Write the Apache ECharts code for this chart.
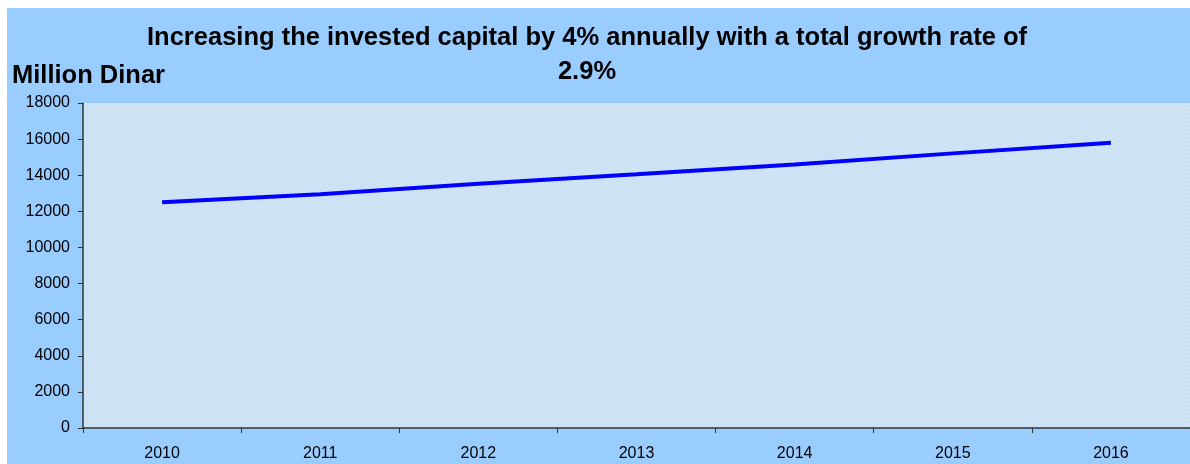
<!DOCTYPE html>
<html>
<head>
<meta charset="utf-8">
<script src="https://cdn.jsdelivr.net/npm/echarts@6/dist/echarts.min.js"></script>
<style>
html,body{margin:0;padding:0;background:#fff;}
#chart{width:1190px;height:464px;}
</style>
</head>
<body>
<div id="chart"></div>
<script>
const years = ['2010','2011','2012','2013','2014','2015','2016'];
const capital = [12500, 12950, 13530, 14050, 14600, 15210, 15800];
const titleText = 'Increasing the invested capital by 4% annually with a total growth rate of\n2.9%';
const unitText = 'Million Dinar';

// dotted texture for plot area
const tile = document.createElement('canvas');
tile.width = 4; tile.height = 4;
const tc = tile.getContext('2d');
tc.fillStyle = '#cfe3f3'; tc.fillRect(0,0,4,4);
tc.fillStyle = '#daeaf7'; tc.fillRect(0,0,1,1); tc.fillRect(2,2,1,1);
tc.fillStyle = '#bcd6ee'; tc.fillRect(2,0,1,1); tc.fillRect(0,2,1,1);

const chart = echarts.init(document.getElementById('chart'));
chart.setOption({
  backgroundColor: '#ffffff',
  animation: false,
  graphic: [{
    type: 'rect', z: -10, silent: true,
    shape: {x: 7, y: 8, width: 1183, height: 456},
    style: {fill: '#99ccff'}
  }],
  title: [{
    text: titleText,
    left: 587, top: 21, textAlign: 'center', padding: 0,
    textStyle: {fontFamily: 'Liberation Sans, Arial', fontWeight: 'bold', fontSize: 25.5, lineHeight: 34, color: '#000'}
  }, {
    text: unitText,
    left: 12, top: 62, padding: 0,
    textStyle: {fontFamily: 'Liberation Sans, Arial', fontWeight: 'bold', fontSize: 25.5, lineHeight: 28, color: '#000'}
  }],
  grid: {
    left: 83, top: 103, width: 1113, height: 325,
    show: true, borderWidth: 0,
    backgroundColor: {image: tile, repeat: 'repeat'}
  },
  xAxis: {
    type: 'category', data: years, boundaryGap: true,
    axisLine: {lineStyle: {color: '#333', width: 1.5}},
    axisTick: {show: true, length: 5, lineStyle: {color: '#333'}},
    axisLabel: {margin: 18, color: '#000', fontSize: 16, fontFamily: 'Liberation Sans, Arial'},
    splitLine: {show: false}
  },
  yAxis: {
    type: 'value', min: 0, max: 18000, interval: 2000,
    axisLine: {show: true, lineStyle: {color: '#333', width: 1.5}},
    axisTick: {show: true, length: 5, lineStyle: {color: '#333'}},
    axisLabel: {margin: 13, color: '#000', fontSize: 16, fontFamily: 'Liberation Sans, Arial', formatter: v => String(v)},
    splitLine: {show: false}
  },
  series: [{
    type: 'line', data: capital,
    showSymbol: false, symbol: 'none',
    lineStyle: {color: '#0000ff', width: 4}
  }]
});
</script>
</body>
</html>
